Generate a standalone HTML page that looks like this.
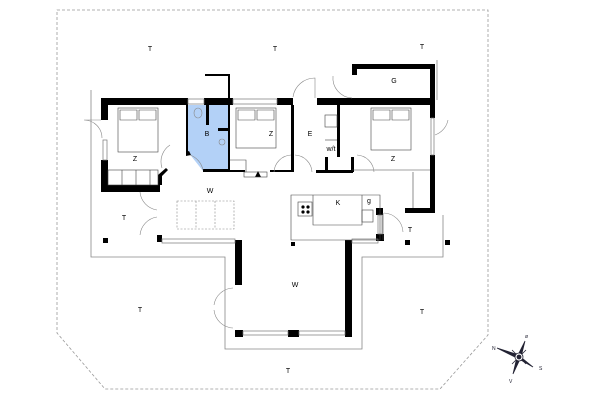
<!DOCTYPE html>
<html><head><meta charset="utf-8"><style>html,body{margin:0;padding:0;background:#fff}svg{display:block}</style></head>
<body>
<svg width="600" height="400" viewBox="0 0 600 400" xmlns="http://www.w3.org/2000/svg" font-family="Liberation Sans, sans-serif" font-size="7" fill="#000">
<rect width="600" height="400" fill="#fff"/>
<polygon points="57,10 488,10 488,335 440,389 105,389 57,333" fill="none" stroke="#999" stroke-width="0.8" stroke-dasharray="3,2"/>
<g fill="none" stroke="#888" stroke-width="0.8">
<polyline points="91,90 91,257 225,257 225,349 362,349 362,257 443,257 443,215"/>
<line x1="437" y1="60" x2="437" y2="100"/>
</g>
<polygon points="188,105 228,105 228,171 203,171 188,152" fill="#b3d1f7"/>
<g fill="#000">
<rect x="101" y="98" width="87" height="7"/>
<rect x="101" y="98" width="7" height="22"/>
<rect x="101" y="160" width="7" height="32"/>
<rect x="101" y="185" width="59" height="7"/>
<polygon points="158,185 162,185 162,176 168,170 166,168 158,175"/>
<rect x="186" y="105" width="2" height="48"/>
<polygon points="186,152 189,151 191,155 186,156"/>
<rect x="204" y="98" width="29" height="7"/>
<rect x="206" y="105" width="3" height="20"/>
<rect x="218" y="128" width="10" height="3"/>
<rect x="228" y="75" width="2" height="97"/>
<rect x="205" y="74" width="25" height="2"/>
<rect x="203" y="169" width="27" height="3"/>
<rect x="277" y="98" width="16" height="7"/>
<rect x="291" y="105" width="3" height="67"/>
<rect x="230" y="170" width="15" height="2"/>
<rect x="270" y="170" width="24" height="2"/>
<rect x="317" y="98" width="118" height="7"/>
<rect x="337" y="105" width="3" height="52"/>
<rect x="352" y="64" width="83" height="5"/>
<rect x="352" y="64" width="5" height="11"/>
<rect x="430" y="64" width="5" height="54"/>
<rect x="430" y="155" width="5" height="58"/>
<rect x="405" y="208" width="30" height="5"/>
<rect x="376" y="208" width="7" height="7"/>
<rect x="316" y="170" width="37" height="3"/>
<rect x="325" y="157" width="3" height="15"/>
<rect x="351" y="157" width="3" height="15"/>
<rect x="376" y="234" width="8" height="7"/>
<rect x="235" y="240" width="7" height="45"/>
<rect x="235" y="330" width="8" height="7"/>
<rect x="288" y="330" width="11" height="7"/>
<rect x="345" y="240" width="7" height="97"/>
<rect x="157" y="235" width="5" height="7"/>
<rect x="291" y="242" width="4" height="4"/>
<rect x="103" y="238" width="5" height="5"/>
<rect x="405" y="240" width="5" height="5"/>
<rect x="445" y="240" width="5" height="5"/>
<polygon points="255,177 258,171 261,177"/>
</g>
<g fill="none" stroke="#777" stroke-width="0.7">
<rect x="188" y="99" width="16" height="5"/>
<rect x="233" y="99" width="44" height="5"/>
<rect x="103" y="140" width="4" height="20"/>
<rect x="431" y="118" width="3" height="37"/>
<rect x="162" y="239" width="73" height="4"/>
<rect x="352" y="239" width="26" height="4"/>
<rect x="243" y="331" width="45" height="4"/>
<rect x="299" y="331" width="46" height="4"/>
<rect x="378" y="215" width="4" height="19"/>
</g>
<g fill="none" stroke="#444" stroke-width="0.6">
<rect x="118" y="108" width="40" height="44"/>
<rect x="236" y="108" width="40" height="40"/>
<rect x="371" y="108" width="40" height="42"/>
<path d="M120,110 h17 v10 h-17z M139,110 h17 v10 h-17z"/>
<path d="M238,110 h17 v10 h-17z M257,110 h17 v10 h-17z"/>
<path d="M373,110 h17 v10 h-17z M392,110 h17 v10 h-17z"/>
<rect x="108" y="170" width="50" height="15"/>
<line x1="122" y1="170" x2="122" y2="185"/><line x1="136" y1="170" x2="136" y2="185"/><line x1="150" y1="170" x2="150" y2="185"/>
<rect x="177" y="201" width="57" height="28" stroke-dasharray="2,1.5" stroke="#888"/>
<line x1="196" y1="201" x2="196" y2="229" stroke-dasharray="2,1.5" stroke="#888"/>
<line x1="215" y1="201" x2="215" y2="229" stroke-dasharray="2,1.5" stroke="#888"/>
<polygon points="291,195 380,195 380,240 291,240"/>
<polyline points="313,195 313,225 362,225 362,195"/>
<rect x="298" y="202" width="14" height="14"/>
<rect x="362" y="210" width="11" height="12"/>
<rect x="325" y="115" width="12" height="12"/>
<line x1="325" y1="140" x2="337" y2="140"/>
<polyline points="230,160 246,160 246,172"/>
<rect x="244" y="172" width="23" height="5"/>
<line x1="413" y1="172" x2="413" y2="208"/>
<line x1="352" y1="170" x2="430" y2="170"/>
<line x1="383" y1="213" x2="383" y2="240"/>
</g>
<g fill="#000"><circle cx="303" cy="207" r="1.6"/><circle cx="308" cy="207" r="1.6"/><circle cx="303" cy="212" r="1.6"/><circle cx="308" cy="212" r="1.6"/></g>
<g fill="none" stroke="#888" stroke-width="0.6">
<path d="M84,120 A18,18 0 0 1 102,138 M84,120 L101,120"/>
<path d="M170,145 A20,20 0 0 0 162,168"/>
<path d="M190,155 A20,20 0 0 1 203,170"/>
<path d="M140,192 A20,20 0 0 0 157,210 M140,235 A20,20 0 0 1 157,217"/>
<path d="M293,97 A22,22 0 0 1 315,78 L315,98"/>
<path d="M333,76 A20,20 0 0 0 352,98"/>
<path d="M435,135 A20,20 0 0 0 448,120"/>
<path d="M274,172 A18,18 0 0 1 291,155"/>
<path d="M295,155 A18,18 0 0 1 312,172"/>
<path d="M357,155 A18,18 0 0 1 374,172"/>
<path d="M384,213 A20,20 0 0 1 403,232"/>
<path d="M233,288 A20,20 0 0 0 214,305 M233,328 A20,20 0 0 1 214,310"/>
<circle cx="222" cy="142" r="3"/>
<ellipse cx="198" cy="113" rx="4" ry="5"/>
</g>
<g font-size="7" text-anchor="middle">
<text x="150" y="51">T</text><text x="275" y="51">T</text><text x="422" y="49">T</text>
<text x="394" y="83">G</text>
<text x="135" y="161">Z</text><text x="207" y="136">B</text><text x="271" y="136">Z</text>
<text x="310" y="136">E</text><text x="331" y="151">w/t</text><text x="393" y="161">Z</text>
<text x="210" y="193">W</text><text x="338" y="205">K</text><text x="369" y="203">g</text>
<text x="124" y="220">T</text><text x="410" y="232">T</text>
<text x="295" y="287">W</text>
<text x="140" y="312">T</text><text x="422" y="314">T</text>
<text x="288" y="373">T</text>
</g>
<g transform="translate(519,357)" stroke="#223" stroke-width="0.8" fill="#223">
<polygon points="-22,-9 0,-2 2,3"/>
<polygon points="14,10 0,2 -2,-3"/>
<polygon points="6,-16 2,0 -2,0"/>
<polygon points="-6,17 -2,0 2,0"/>
<line x1="-7" y1="-7" x2="7" y2="7"/><line x1="7" y1="-7" x2="-7" y2="7"/>
<circle r="4" fill="#fff"/><circle r="2"/>
<text x="-27" y="-7" font-size="5" stroke="none">N</text>
<text x="20" y="13" font-size="5" stroke="none">S</text>
<text x="-10" y="26" font-size="5" stroke="none">V</text>
<text x="6" y="-19" font-size="5" stroke="none">ø</text>
</g>
</svg>
</body></html>
